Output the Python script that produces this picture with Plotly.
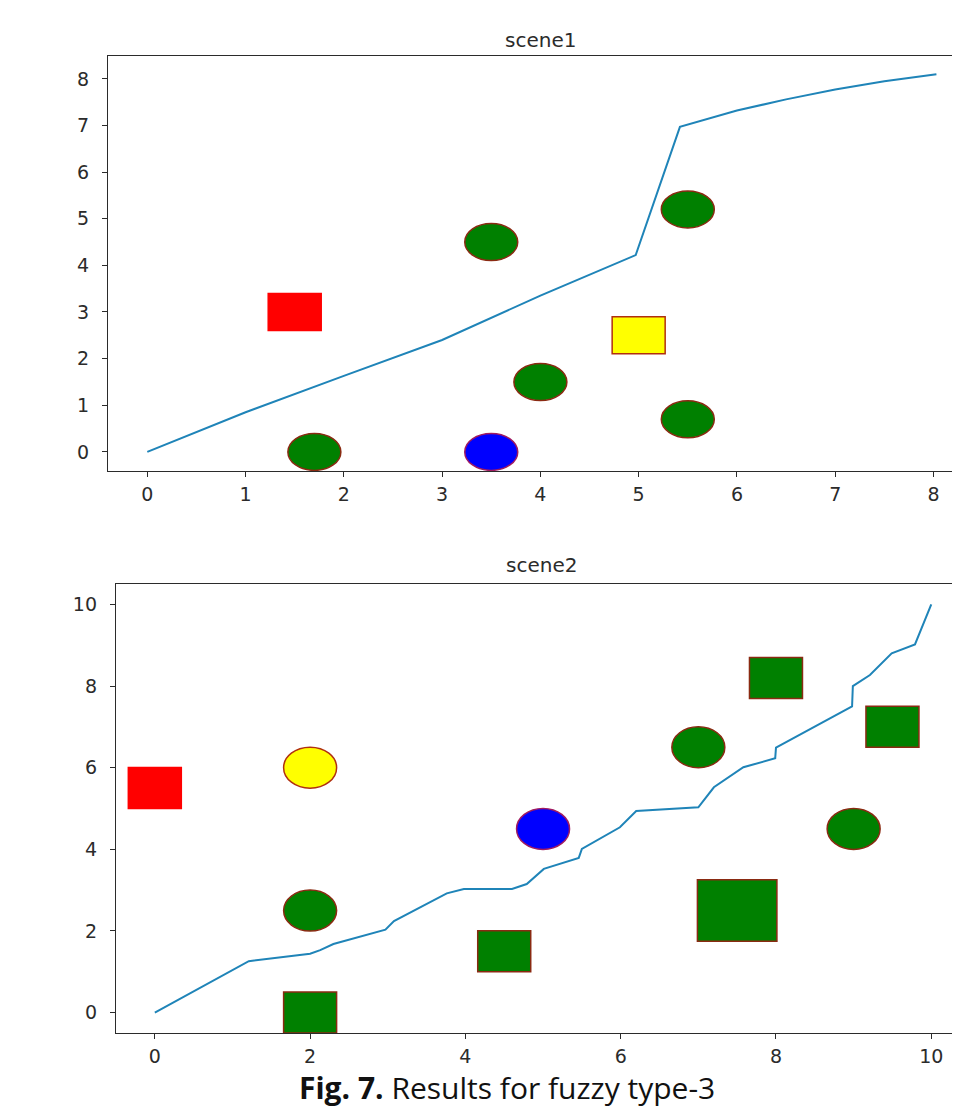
import plotly.graph_objects as go

# ---------------- data ----------------
# scene1: planned path
s1_path_x = [0, 1, 2, 3, 4, 4.97, 5.42, 6.0, 6.5, 7.0, 7.5, 8.03]
s1_path_y = [0, 0.85, 1.63, 2.4, 3.35, 4.22, 6.97, 7.32, 7.56, 7.77, 7.95, 8.1]
# scene1: objects
s1_obj_x = [1.5, 1.7, 3.5, 3.5, 4.0, 5.0, 5.5, 5.5]
s1_obj_y = [3.0, 0.0, 0.0, 4.5, 1.5, 2.5, 5.2, 0.7]
s1_obj_kind = ["square", "circle", "circle", "circle", "circle", "square", "circle", "circle"]
s1_obj_color = ["red", "green", "blue", "green", "green", "yellow", "green", "green"]
s1_obj_scale = [1, 1, 1, 1, 1, 1, 1, 1]

# scene2: planned path
s2_path_x = [0, 1.21, 2.0, 2.13, 2.3, 2.97, 3.08, 3.76, 3.98, 4.6, 4.79, 5.01, 5.46, 5.5,
             5.99, 6.2, 7.0, 7.2, 7.58, 7.99, 8.0, 8.98, 8.99, 9.21, 9.49, 9.79, 10.0]
s2_path_y = [0, 1.26, 1.44, 1.53, 1.68, 2.03, 2.24, 2.92, 3.03, 3.03, 3.15, 3.52, 3.79, 4.01,
             4.54, 4.94, 5.03, 5.52, 6.01, 6.23, 6.49, 7.5, 8.0, 8.27, 8.8, 9.02, 10.0]
# scene2: objects
s2_obj_x = [0.0, 2.0, 2.0, 2.0, 4.5, 5.0, 7.5, 7.0, 8.0, 9.5, 9.0]
s2_obj_y = [5.5, 6.0, 2.5, 0.0, 1.5, 4.5, 2.5, 6.5, 8.2, 7.0, 4.5]
s2_obj_kind = ["square", "circle", "circle", "square", "square", "circle", "square",
               "circle", "square", "square", "circle"]
s2_obj_color = ["red", "yellow", "green", "green", "green", "blue", "green",
                "green", "green", "green", "green"]
s2_obj_scale = [1, 1, 1, 1, 1, 1, 1.5, 1, 1, 1, 1]

titles = ["scene1", "scene2"]
caption_bold = "Fig. 7."
caption_text = "Results for fuzzy type-3"

# ---------------- styles ----------------
# page body has an 8px margin, so the figure is 8px smaller than the window
W, H = 952, 1099
fill_map = {"red": "#ff0000", "green": "#008000", "blue": "#0000ff", "yellow": "#ffff00"}
edge_map = {"red": "#ff0000", "green": "#8a2a12", "blue": "#a01a60", "yellow": "#b0300f"}
line_color = "#1f84b8"
axis_color = "#2b2b2b"
text_color = "#2b2b2b"
tick_font = dict(family="DejaVu Sans", size=19, color=text_color)

# pixel geometry of the two panels (figure coordinates)
p1 = dict(l=100, r=952, t=48, b=463, xr=[-0.40, 8.27], yr=[-0.41, 8.49], mw=53, mh=37)
p2 = dict(l=108, r=952, t=576, b=1025, xr=[-0.5, 10.37], yr=[-0.5, 10.5], mw=53, mh=41)

fig = go.Figure()

fig.add_trace(go.Scatter(x=s1_path_x, y=s1_path_y, mode="lines",
                         line=dict(color=line_color, width=2), xaxis="x", yaxis="y",
                         showlegend=False))
fig.add_trace(go.Scatter(x=s2_path_x, y=s2_path_y, mode="lines",
                         line=dict(color=line_color, width=2), xaxis="x2", yaxis="y2",
                         showlegend=False))

shapes = []
def add_objects(xs, ys, kinds, colors, scales, xref, yref, mw, mh):
    for x, y, k, c, s in zip(xs, ys, kinds, colors, scales):
        w = mw * s
        h = mh * s
        shapes.append(dict(
            type="circle" if k == "circle" else "rect",
            xref=xref, yref=yref,
            xsizemode="pixel", ysizemode="pixel",
            xanchor=x, yanchor=y,
            x0=-w / 2, x1=w / 2, y0=-h / 2, y1=h / 2,
            fillcolor=fill_map[c],
            line=dict(color=edge_map[c], width=1.5),
            layer="above",
        ))

add_objects(s1_obj_x, s1_obj_y, s1_obj_kind, s1_obj_color, s1_obj_scale, "x", "y", p1["mw"], p1["mh"])
add_objects(s2_obj_x, s2_obj_y, s2_obj_kind, s2_obj_color, s2_obj_scale, "x2", "y2", p2["mw"], p2["mh"])

def xaxis_cfg(p, dtick):
    return dict(domain=[p["l"] / W, p["r"] / W], range=p["xr"], dtick=dtick, tick0=0,
                showgrid=False, zeroline=False, showline=True, mirror=True,
                linecolor=axis_color, linewidth=1.3, ticks="outside", ticklen=5,
                tickwidth=1.3, tickcolor=axis_color, tickfont=tick_font,
                ticklabelstandoff=1, fixedrange=True)

def yaxis_cfg(p, dtick):
    return dict(domain=[1 - p["b"] / H, 1 - p["t"] / H], range=p["yr"], dtick=dtick, tick0=0,
                showgrid=False, zeroline=False, showline=True, mirror=False,
                linecolor=axis_color, linewidth=1.3, ticks="outside", ticklen=5,
                tickwidth=1.3, tickcolor=axis_color, tickfont=tick_font,
                ticklabelstandoff=9, fixedrange=True)

annotations = [
    dict(text=titles[0], xref="paper", yref="paper", x=532 / W, y=1 - 32 / H,
         xanchor="center", yanchor="middle", showarrow=False,
         font=dict(family="DejaVu Sans", size=20, color=text_color)),
    dict(text=titles[1], xref="paper", yref="paper", x=533 / W, y=1 - 557 / H,
         xanchor="center", yanchor="middle", showarrow=False,
         font=dict(family="DejaVu Sans", size=20, color=text_color)),
    dict(text="<b>" + caption_bold + "</b> " + caption_text, xref="paper", yref="paper",
         x=499 / W, y=1 - 1079 / H, xanchor="center", yanchor="middle", showarrow=False,
         font=dict(family="Open Sans", size=30, color="#111111")),
]

fig.update_layout(
    width=W, height=H,
    margin=dict(l=0, r=0, t=0, b=0),
    paper_bgcolor="white", plot_bgcolor="white",
    xaxis=xaxis_cfg(p1, 1), yaxis=yaxis_cfg(p1, 1),
    xaxis2=dict(xaxis_cfg(p2, 2), anchor="y2"), yaxis2=dict(yaxis_cfg(p2, 2), anchor="x2"),
    shapes=shapes, annotations=annotations,
    showlegend=False,
)

fig.write_html("out.html")
